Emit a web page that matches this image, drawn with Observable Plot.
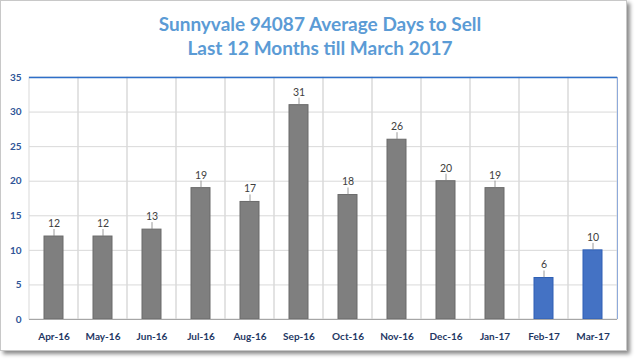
<!DOCTYPE html>
<html><head><meta charset="utf-8">
<script src="https://cdn.jsdelivr.net/npm/d3@7"></script>
<script src="https://cdn.jsdelivr.net/npm/@observablehq/plot@0.6"></script>
<style>
body{margin:0;background:#fff;}
#frame{position:absolute;left:0;top:0;width:625px;height:349px;border:1px solid #c8c8c8;box-shadow:3px 3px 4px #8a8a8a;background:#fff;overflow:hidden;}
#title{position:absolute;left:0;top:12px;width:640px;text-align:center;font-family:Lato,sans-serif;font-weight:bold;font-size:19px;line-height:24px;color:#5b9bd5;}
#chart{position:absolute;left:0;top:65px;}
</style></head>
<body>
<div id="frame"></div>
<div id="title">Sunnyvale 94087 Average Days to Sell<br>Last 12 Months till March 2017</div>
<div id="chart"></div>
<script>
const months = ["Apr-16","May-16","Jun-16","Jul-16","Aug-16","Sep-16","Oct-16","Nov-16","Dec-16","Jan-17","Feb-17","Mar-17"];
const days = [12,12,13,19,17,31,18,26,20,19,6,10];
const highlight = ["Feb-17","Mar-17"];
const yTicks = [0,5,10,15,20,25,30,35];

const data = months.map((m,i)=>({month:m, days:days[i], hi:highlight.includes(m)}));

const plot = Plot.plot({
  width:640, height:296,
  marginTop:12, marginBottom:42, marginLeft:29, marginRight:23,
  style:{fontFamily:"Lato, sans-serif", background:"transparent"},
  x:{domain:months, padding:0, label:null},
  y:{domain:[0,35], label:null},
  marks:[
    Plot.ruleY(yTicks, {stroke:"#d9d9d9", strokeWidth:1}),
    Plot.barY(months, {x:d=>d, y:35, fill:"none", stroke:"#d9d9d9", strokeWidth:1}),
    Plot.ruleY([35], {stroke:"#2e6fc9", strokeWidth:1.5}),
    Plot.ruleX([months[11]], {y1:0, y2:35, dx:24.5, stroke:"#8eaadb"}),
    Plot.barY(data, {x:"month", y:"days", fill:d=>d.hi?"#4472c4":"#7f7f7f", stroke:d=>d.hi?"#2e5fb5":"#6a6a6a", strokeWidth:1, insetLeft:15, insetRight:15}),
    Plot.ruleY([0], {stroke:"#a6a6a6"}),
    Plot.ruleX(data, {x:"month", y1:"days", y2:"days", insetTop:-7, stroke:"#808080", strokeWidth:0.8}),
    Plot.text(data, {x:"month", y:"days", text:d=>String(d.days), dy:-13, fontSize:10.5, fill:"#404040"}),
    Plot.axisY(yTicks, {tickSize:0, tickPadding:4, fontSize:10, fontWeight:"bold", color:"#2f5597", label:null, dx:-4}),
    Plot.axisX({tickSize:0, tickPadding:13, fontSize:10, fontWeight:"bold", color:"#1f3864", label:null})
  ]
});
document.getElementById("chart").appendChild(plot);
</script>
</body></html>
